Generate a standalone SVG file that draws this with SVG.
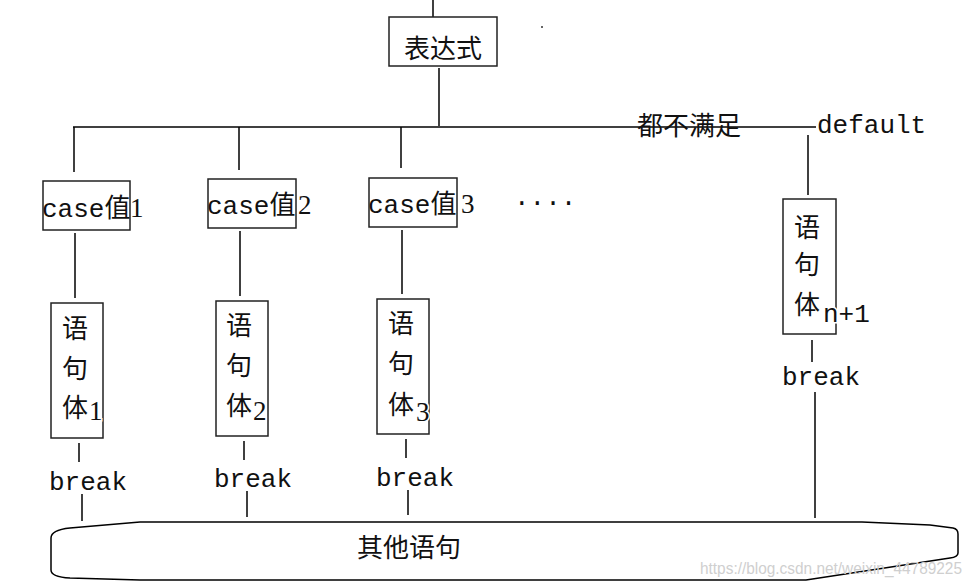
<svg xmlns="http://www.w3.org/2000/svg" width="980" height="584" viewBox="0 0 980 584">
<style>
.ln{stroke:#000;stroke-width:1.5;fill:none}
.bx{fill:#fff;stroke:#222;stroke-width:1.5}
.t{font-family:"Liberation Mono","Noto Sans CJK SC",monospace;font-size:26px;fill:#111}
.c{font-family:"Noto Sans CJK SC",sans-serif;font-size:26px;fill:#111}
.s{font-family:"Liberation Serif","Noto Sans CJK SC",serif;font-size:27px;fill:#111}
.h{paint-order:stroke;stroke:#fff;stroke-width:3}
</style>
<rect width="980" height="584" fill="#fff"/>
<g id="connectors">
<line class="ln" x1="433" y1="0" x2="433" y2="17"/>
<line class="ln" x1="439" y1="68" x2="439" y2="126"/>
<line class="ln" x1="73" y1="127" x2="816" y2="127"/>
<line class="ln" x1="74" y1="127" x2="74" y2="172"/>
<line class="ln" x1="239" y1="127" x2="239" y2="170"/>
<line class="ln" x1="401" y1="127" x2="401" y2="168"/>
<line class="ln" x1="808" y1="135" x2="808" y2="195"/>
<line class="ln" x1="75" y1="233" x2="75" y2="298"/>
<line class="ln" x1="240" y1="231" x2="240" y2="296"/>
<line class="ln" x1="402" y1="230" x2="402" y2="294"/>
<line class="ln" x1="79" y1="443" x2="79" y2="462"/>
<line class="ln" x1="244" y1="441" x2="244" y2="460"/>
<line class="ln" x1="406" y1="439" x2="406" y2="458"/>
<line class="ln" x1="812" y1="340" x2="812" y2="362"/>
<line class="ln" x1="82" y1="494" x2="82" y2="521"/>
<line class="ln" x1="247" y1="491" x2="247" y2="517"/>
<line class="ln" x1="408" y1="490" x2="408" y2="515"/>
<line class="ln" x1="815" y1="392" x2="815" y2="518"/>
</g>
<g id="expr">
<rect class="bx" x="389" y="17" width="108" height="49"/>
<text class="c" x="443" y="58" text-anchor="middle" font-size="30">表达式</text>
</g>
<g id="label-none">
<text class="c" x="637" y="135" font-size="29">都不满足</text>
</g>
<g id="label-default">
<text class="t" x="817" y="133" font-size="24.5">default</text>
</g>
<g id="case1">
<rect class="bx" x="43" y="181" width="87" height="49"/>
<text class="t" x="42" y="217">case值<tspan class="s" x="130">1</tspan></text>
</g>
<g id="case2">
<rect class="bx" x="208" y="179" width="88" height="49"/>
<text class="t" x="207" y="214">case值<tspan class="s" x="298">2</tspan></text>
</g>
<g id="case3">
<rect class="bx" x="369" y="178" width="88" height="49"/>
<text class="t" x="368" y="213">case值<tspan class="s" x="461">3</tspan></text>
</g>
<g id="dots">
<text class="t" x="514" y="210" font-size="24">····</text>
</g>
<circle cx="542" cy="27" r="1" fill="#333"/>
<g id="body1">
<rect class="bx" x="51" y="303" width="52" height="135"/>
<text class="c" x="62" y="338">语</text>
<text class="c" x="62" y="378">句</text>
<text class="c" x="62" y="417">体</text>
<text class="s h" x="89" y="420">1</text>
</g>
<g id="body2">
<rect class="bx" x="216" y="301" width="52" height="135"/>
<text class="c" x="226" y="335">语</text>
<text class="c" x="226" y="375">句</text>
<text class="c" x="226" y="415">体</text>
<text class="s h" x="253" y="420">2</text>
</g>
<g id="body3">
<rect class="bx" x="377" y="299" width="52" height="135"/>
<text class="c" x="388" y="333">语</text>
<text class="c" x="388" y="373">句</text>
<text class="c" x="388" y="414">体</text>
<text class="s h" x="416" y="421">3</text>
</g>
<g id="bodyn">
<rect class="bx" x="783" y="199" width="53" height="135"/>
<text class="c" x="794" y="237">语</text>
<text class="c" x="794" y="274">句</text>
<text class="c" x="794" y="314">体</text>
<text class="t h" x="823" y="322" font-size="22">n+1</text>
</g>
<g id="break1"><text class="t" x="49" y="490" font-size="24.5">break</text></g>
<g id="break2"><text class="t" x="214" y="487" font-size="24.5">break</text></g>
<g id="break3"><text class="t" x="376" y="486" font-size="24.5">break</text></g>
<g id="breakn"><text class="t" x="782" y="385" font-size="24.5">break</text></g>
<g id="others">
<path class="ln" d="M140,522 H862 L930,525 L953,528 Q958,529 958,534 V553 Q958,557 950,558 L806,580 H140 L70,578 Q51,577 51,570 V538 Q51,530 70,528 Z"/>
<text class="c" x="357" y="557" font-size="29.5">其他语句</text>
</g>
<text x="700" y="574" font-family="Liberation Sans,Arial,sans-serif" font-size="16" fill="#cfcfcf" textLength="262" lengthAdjust="spacingAndGlyphs">https://blog.csdn.net/weixin_44789225</text>
</svg>
